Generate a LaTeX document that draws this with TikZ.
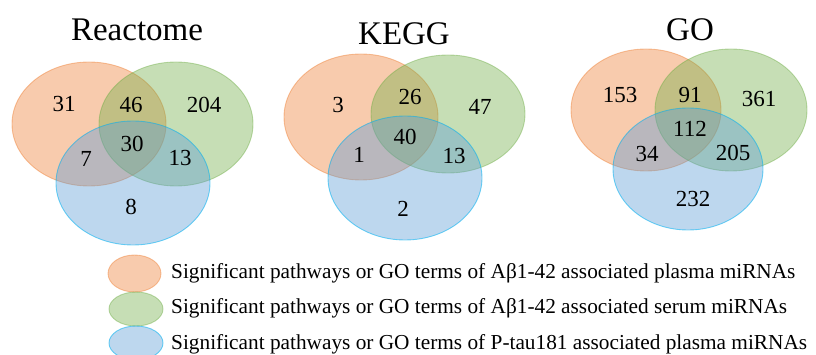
\documentclass[tikz,border=0pt]{standalone}
\usepackage{fontspec}
\setmainfont{Liberation Serif}
\definecolor{cOrange}{RGB}{237,125,49}
\definecolor{cGreen}{RGB}{112,173,71}
\definecolor{cBlue}{RGB}{91,155,213}
\definecolor{cBlueEdge}{RGB}{0,176,240}
\tikzset{
  setA/.style={fill=cOrange,fill opacity=0.4,draw=cOrange,draw opacity=0.45,line width=0.9pt},
  setB/.style={fill=cGreen,fill opacity=0.4,draw=cGreen,draw opacity=0.45,line width=0.9pt},
  setC/.style={fill=cBlue,fill opacity=0.4,draw=cBlueEdge,draw opacity=0.55,line width=0.9pt},
  vtitle/.style={font=\fontsize{33}{36}\selectfont,inner sep=0pt},
  count/.style={font=\fontsize{23}{26}\selectfont,inner sep=0pt},
  legtext/.style={font=\fontsize{21.3}{24}\selectfont,inner sep=0pt,anchor=west}
}
\begin{document}
\begin{tikzpicture}[x=1pt,y=-1pt]
\useasboundingbox (0,0) rectangle (816,355);

% Reactome
\node[vtitle] (tR) at (137,30) {Reactome};
\draw[setA] (89,124) ellipse [x radius=77,y radius=62];
\draw[setB] (176,124) ellipse [x radius=77,y radius=62];
\draw[setC] (133,183) ellipse [x radius=77,y radius=62];
\node[count] (r1) at (64,104) {31};
\node[count] (r2) at (131,105) {46};
\node[count] (r3) at (204,105) {204};
\node[count] (r4) at (132,144) {30};
\node[count] (r5) at (86,159) {7};
\node[count] (r6) at (180,158) {13};
\node[count] (r7) at (131,207) {8};

% KEGG
\node[vtitle] (tK) at (404,34) {KEGG};
\draw[setA] (361,117) ellipse [x radius=77,y radius=63];
\draw[setB] (448,114) ellipse [x radius=77,y radius=59];
\draw[setC] (405,178) ellipse [x radius=77,y radius=62];
\node[count] (k1) at (338,105) {3};
\node[count] (k2) at (410,97) {26};
\node[count] (k3) at (480,107) {47};
\node[count] (k4) at (405,137) {40};
\node[count] (k5) at (359,155) {1};
\node[count] (k6) at (454,156) {13};
\node[count] (k7) at (403,209) {2};

% GO
\node[vtitle] (tG) at (690,30) {GO};
\draw[setA] (646,110) ellipse [x radius=75,y radius=61];
\draw[setB] (731,110) ellipse [x radius=76,y radius=61];
\draw[setC] (688,169) ellipse [x radius=75,y radius=61];
\node[count] (g1) at (620,95) {153};
\node[count] (g2) at (690,95) {91};
\node[count] (g3) at (759,99) {361};
\node[count] (g4) at (690,129) {112};
\node[count] (g5) at (647,154) {34};
\node[count] (g6) at (733,153) {205};
\node[count] (g7) at (693,199) {232};

% legend
\draw[setA] (134.5,273.5) ellipse [x radius=26.5,y radius=18.5];
\draw[setB] (136,309) ellipse [x radius=27,y radius=17];
\draw[setC] (136,343) ellipse [x radius=27,y radius=17];
\node[legtext] (l1) at (171,273) {Significant pathways or GO terms of Aβ1-42 associated plasma miRNAs};
\node[legtext] (l2) at (171,308) {Significant pathways or GO terms of Aβ1-42 associated serum miRNAs};
\node[legtext] (l3) at (171,344) {Significant pathways or GO terms of P-tau181 associated plasma miRNAs};
\end{tikzpicture}
\end{document}
